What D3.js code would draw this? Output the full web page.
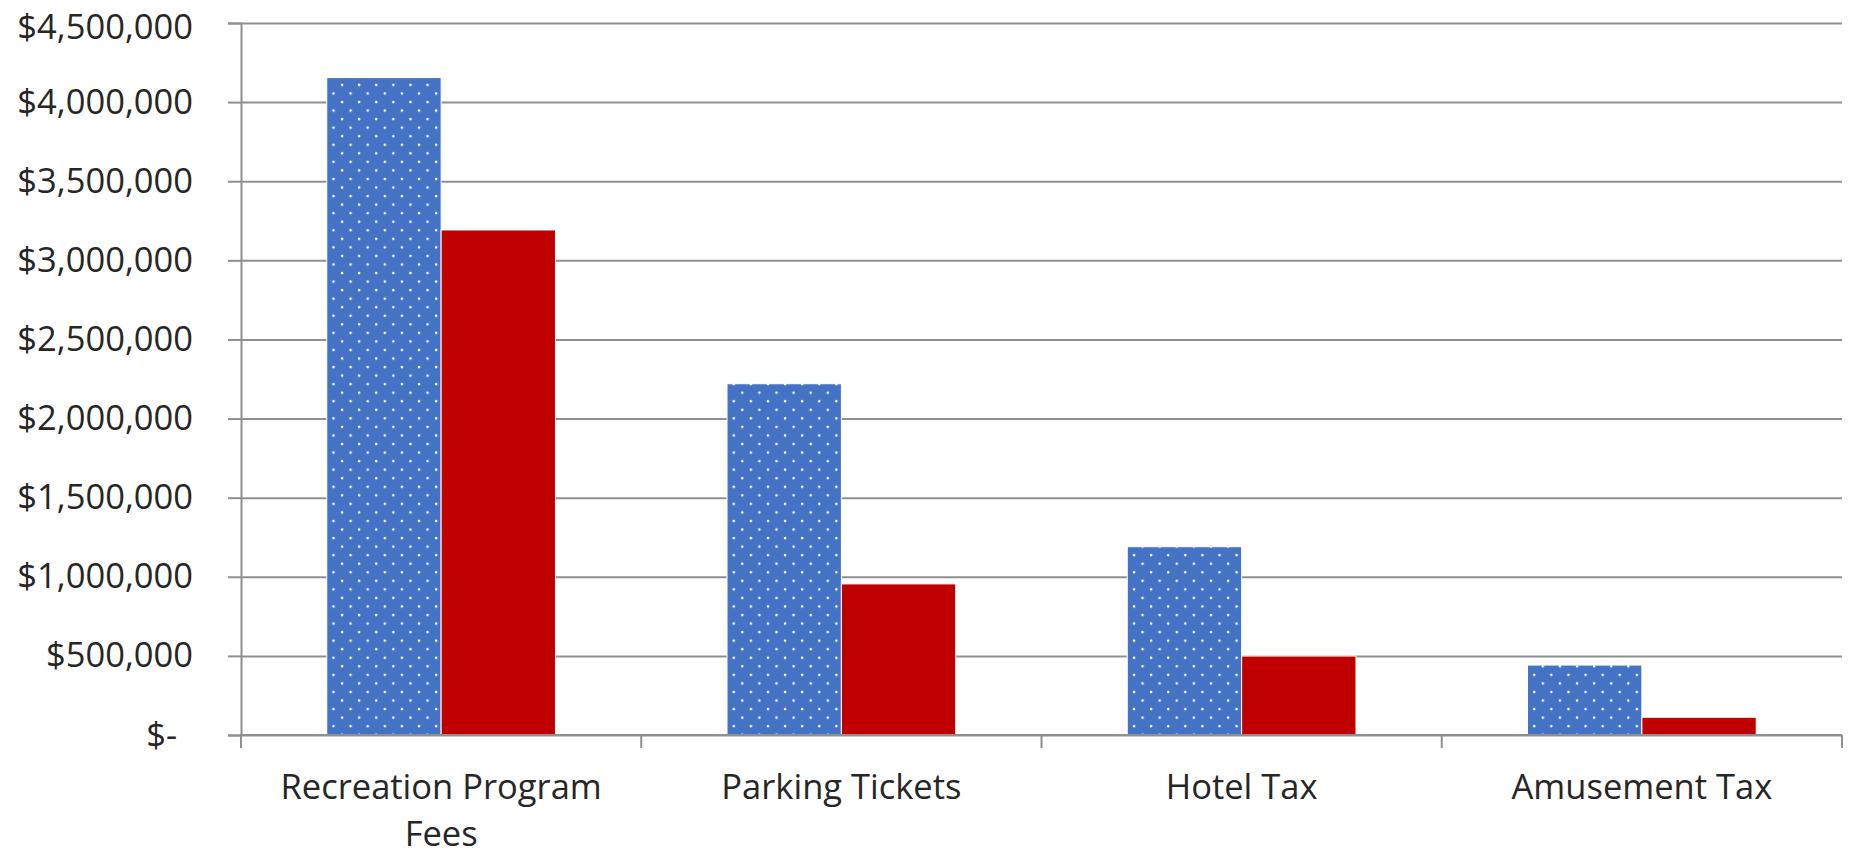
<!DOCTYPE html>
<html>
<head>
<meta charset="utf-8">
<script src="https://cdn.jsdelivr.net/npm/d3@7"></script>
<style>
  body { margin: 0; background: #fff; }
  text { font-family: "Open Sans", sans-serif; fill: #262626; }
</style>
</head>
<body>
<div id="chart"></div>
<script>
////////////////////////////////////////////////////////////////////////
// Data

let categories = ["Recreation Program Fees", "Parking Tickets", "Hotel Tax", "Amusement Tax"];
let seriesNames = ["blue", "red"];
let blueValues = [4155000, 2220000, 1190000, 442000];
let redValues = [3192000, 955000, 499000, 112000];
let yTicks = [0, 500000, 1000000, 1500000, 2000000, 2500000, 3000000, 3500000, 4000000, 4500000];

////////////////////////////////////////////////////////////////////////
// Layout

let width = 1849;
let height = 856;
let plotLeft = 241, plotRight = 1842, plotTop = 23, plotBottom = 735;
let gridColor = "#8f8f8f";
let fontSize = 34.5;

let svg = d3.select("#chart")
  .append("svg")
  .attr("width", width)
  .attr("height", height);

// dotted fill for the blue bars
let pattern = svg.append("defs")
  .append("pattern")
  .attr("id", "dots")
  .attr("patternUnits", "userSpaceOnUse")
  .attr("x", 5)
  .attr("y", 6)
  .attr("width", 17.1)
  .attr("height", 17.1);
pattern.append("rect")
  .attr("width", 17.1)
  .attr("height", 17.1)
  .attr("fill", "#4472c4");
pattern.append("circle")
  .attr("cx", 2).attr("cy", 2).attr("r", 1.3)
  .attr("fill", "#fff");
pattern.append("circle")
  .attr("cx", 10.55).attr("cy", 10.55).attr("r", 1.3)
  .attr("fill", "#fff");

// scales
let xScale = d3.scaleBand()
  .domain(categories)
  .range([plotLeft, plotRight])
  .padding(0);

let xInner = d3.scaleBand()
  .domain(seriesNames)
  .range([0, xScale.bandwidth()])
  .paddingInner(0)
  .paddingOuter(0.75);

let yScale = d3.scaleLinear()
  .domain([0, 4500000])
  .range([plotBottom, plotTop]);

let fill = { blue: "url(#dots)", red: "#c00000" };

// gridlines
svg.append("g")
  .attr("class", "grid")
  .attr("transform", `translate(${plotLeft},0)`)
  .call(d3.axisLeft(yScale).tickValues(yTicks).tickSize(-(plotRight - plotLeft)).tickFormat(""))
  .call(g => g.select(".domain").remove())
  .call(g => g.selectAll("line").attr("stroke", gridColor).attr("stroke-width", 2));

// y axis with money labels
// (top label nudged down a little so it stays inside the page)
svg.append("g")
  .attr("class", "y-axis")
  .attr("transform", `translate(${plotLeft},0)`)
  .call(d3.axisLeft(yScale)
    .tickValues(yTicks)
    .tickSize(13)
    .tickPadding(35)
    .tickFormat(d => d == 0 ? "$-" : "$" + d3.format(",")(d)))
  .call(g => g.select(".domain").attr("stroke", gridColor).attr("stroke-width", 2))
  .call(g => g.selectAll("line").attr("stroke", gridColor).attr("stroke-width", 2))
  .call(g => g.selectAll("text")
    .attr("font-size", fontSize)
    .attr("font-family", "Open Sans, sans-serif")
    .attr("fill", "#262626")
    .attr("dx", d => d == 0 ? -16 : 0)
    .attr("y", d => d == 4500000 ? 4 : 0));

// bars
let groups = svg.append("g")
  .attr("class", "bars")
  .selectAll("g")
  .data(categories)
  .enter()
  .append("g")
  .attr("transform", d => `translate(${xScale(d)},0)`);

groups.selectAll("rect")
  .data((d, i) => [
    { key: "blue", value: blueValues[i] },
    { key: "red", value: redValues[i] }
  ])
  .enter()
  .append("rect")
  .attr("x", d => xInner(d.key))
  .attr("y", d => yScale(d.value))
  .attr("width", xInner.bandwidth())
  .attr("height", d => yScale(0) - yScale(d.value))
  .attr("fill", d => fill[d.key])
  .attr("stroke", "#fff")
  .attr("stroke-width", 1);

// x axis line and category boundary ticks
svg.append("line")
  .attr("x1", plotLeft).attr("x2", plotRight)
  .attr("y1", plotBottom).attr("y2", plotBottom)
  .attr("stroke", gridColor)
  .attr("stroke-width", 2);

let boundaries = categories.map(c => xScale(c)).concat([plotRight]);
svg.append("g")
  .attr("class", "x-ticks")
  .selectAll("line")
  .data(boundaries)
  .enter()
  .append("line")
  .attr("x1", d => d).attr("x2", d => d)
  .attr("y1", plotBottom).attr("y2", plotBottom + 13)
  .attr("stroke", gridColor)
  .attr("stroke-width", 2);

// category labels, wrapped when wider than the band
let labels = svg.append("g")
  .attr("class", "x-labels")
  .selectAll("text")
  .data(categories)
  .enter()
  .append("text")
  .attr("x", d => xScale(d) + xScale.bandwidth() / 2)
  .attr("y", 799)
  .attr("text-anchor", "middle")
  .attr("font-size", fontSize);

labels.each(function(d) {
  let el = d3.select(this);
  let words = d.split(" ");
  let lines = [];
  let line = [];
  let probe = el.append("tspan");
  words.forEach(w => {
    line.push(w);
    probe.text(line.join(" "));
    if (probe.node().getComputedTextLength() > 360 && line.length > 1) {
      line.pop();
      lines.push(line.join(" "));
      line = [w];
    }
  });
  lines.push(line.join(" "));
  probe.remove();
  lines.forEach((l, i) => {
    el.append("tspan")
      .attr("x", el.attr("x"))
      .attr("dy", i == 0 ? 0 : 47)
      .text(l);
  });
});
</script>
</body>
</html>
